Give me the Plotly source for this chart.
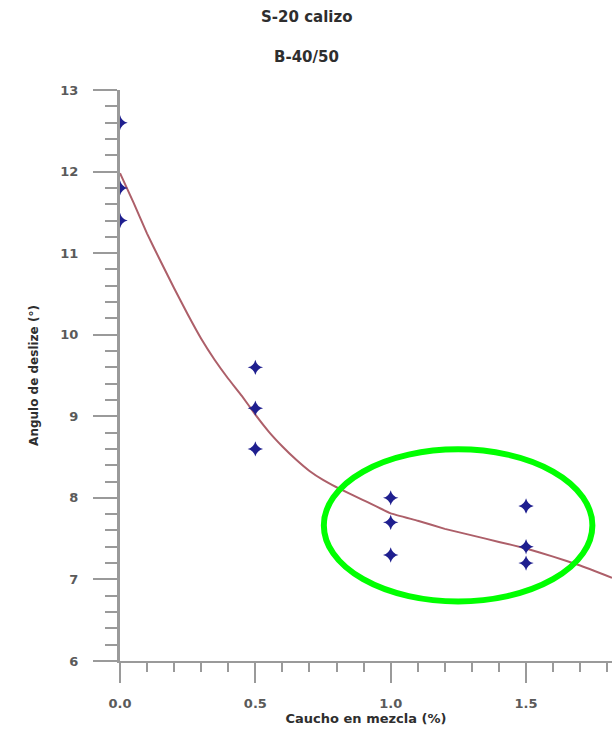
import plotly.graph_objects as go

# Measured sliding angle for each rubber content (three specimens each)
rubber_pct = [0.0, 0.0, 0.0, 0.5, 0.5, 0.5, 1.0, 1.0, 1.0, 1.5, 1.5, 1.5]
angle_deg = [12.6, 11.8, 11.4, 9.6, 9.1, 8.6, 8.0, 7.7, 7.3, 7.9, 7.4, 7.2]

# Fitted trend curve
fit_x = [0.0, 0.05, 0.1, 0.15, 0.2, 0.25, 0.3, 0.35, 0.4, 0.45, 0.5, 0.55, 0.6,
         0.65, 0.7, 0.75, 0.8, 0.9, 1.0, 1.1, 1.2, 1.3, 1.4, 1.5, 1.6, 1.7, 1.8175]
fit_y = [11.98, 11.62, 11.24, 10.90, 10.57, 10.25, 9.95, 9.69, 9.46, 9.25, 9.02, 8.81, 8.63,
         8.47, 8.33, 8.22, 8.13, 7.97, 7.81, 7.72, 7.62, 7.54, 7.46, 7.38, 7.28, 7.17, 7.02]

# Highlighted region (ellipse bounds in data units)
hl_x = [0.753, 1.745]
hl_y = [6.73, 8.595]

x_ticks = [0.0, 0.5, 1.0, 1.5]
x_tick_text = ["0.0", "0.5", "1.0", "1.5"]
y_ticks = [6, 7, 8, 9, 10, 11, 12, 13]

title_text = "S-20 calizo"
subtitle_text = "B-40/50"
x_title = "Caucho en mezcla (%)"
y_title = "Angulo de deslize (°)"

FONT = "DejaVu Sans, Liberation Sans, sans-serif"
AXIS_GREY = "#9a9a9a"
TEXT_DARK = "#2e2e2e"
TICK_TEXT = "#5a5a5a"

fig = go.Figure()

fig.add_trace(go.Scatter(
    x=fit_x, y=fit_y, mode="lines",
    line=dict(color="#ad5f69", width=2, shape="spline", smoothing=0.3),
    hoverinfo="skip", showlegend=False,
))

fig.add_trace(go.Scatter(
    x=rubber_pct, y=angle_deg, mode="markers",
    marker=dict(symbol="star-diamond", size=11, color="#1f1f8f",
                line=dict(width=0)),
    showlegend=False,
))

fig.add_shape(
    type="circle", xref="x", yref="y",
    x0=hl_x[0], x1=hl_x[1], y0=hl_y[0], y1=hl_y[1],
    line=dict(color="#00ff00", width=6),
)

W, H = 612, 733
ML, MR, MT, MB = 120, 0, 90, 72
plot_w = W - ML - MR
plot_h = H - MT - MB


def paper_x(px):
    return (px - ML) / plot_w


def paper_y(py):
    return 1 + (MT - py) / plot_h


for text, ypx in ((title_text, 17), (subtitle_text, 57)):
    fig.add_annotation(
        text=text, xref="paper", yref="paper",
        x=paper_x(306), y=paper_y(ypx), showarrow=False,
        font=dict(family=FONT, size=15, color=TEXT_DARK, weight="bold"),
        xanchor="center", yanchor="middle",
    )

fig.update_xaxes(
    range=[0, 1.8175], showgrid=False, zeroline=False,
    showline=True, linecolor=AXIS_GREY, linewidth=2,
    tickmode="array", tickvals=x_ticks, ticktext=x_tick_text,
    ticks="outside", ticklen=20, tickwidth=2, tickcolor=AXIS_GREY,
    ticklabelstandoff=9,
    minor=dict(dtick=0.1, ticks="outside", ticklen=9, tickwidth=2, tickcolor=AXIS_GREY),
    tickfont=dict(family=FONT, size=13, color=TICK_TEXT, weight="bold"),
    title=dict(text=x_title, standoff=3,
               font=dict(family=FONT, size=13, color=TEXT_DARK, weight="bold")),
)

fig.update_yaxes(
    range=[6, 13], showgrid=False, zeroline=False,
    showline=True, linecolor=AXIS_GREY, linewidth=3,
    tickmode="array", tickvals=y_ticks,
    ticks="outside", ticklen=24, tickwidth=2, tickcolor=AXIS_GREY,
    ticklabelstandoff=12,
    minor=dict(dtick=0.2, ticks="outside", ticklen=12, tickwidth=2, tickcolor=AXIS_GREY),
    tickfont=dict(family=FONT, size=13, color=TICK_TEXT, weight="bold"),
    title=dict(text=y_title, standoff=20,
               font=dict(family=FONT, size=12, color=TEXT_DARK, weight="bold")),
)

fig.update_layout(
    width=W, height=H,
    margin=dict(l=ML, r=MR, t=MT, b=MB),
    paper_bgcolor="white", plot_bgcolor="white",
    showlegend=False,
)

fig.write_html("out.html")
